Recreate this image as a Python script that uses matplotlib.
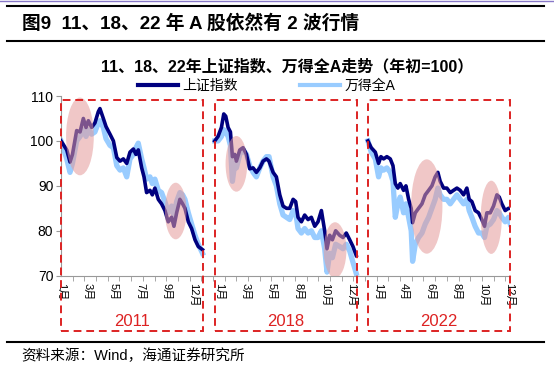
import matplotlib
matplotlib.use("Agg")
import matplotlib.pyplot as plt
import numpy as np
from matplotlib.lines import Line2D
from matplotlib.patches import Ellipse, Rectangle

plt.rcParams['font.family'] = ['Liberation Sans', 'Noto Sans CJK SC', 'DejaVu Sans']

# months since Jan 1 of each year, index values (year start = 100)
years = ['2011', '2018', '2022']

t_2011 = [0, 0.49, 0.77, 0.98, 1.34, 1.63, 1.91, 2.14, 2.34, 2.62, 2.9, 3.19, 3.33, 3.62, 3.85, 4.19,
          4.48, 4.77, 5.05, 5.33, 5.62, 5.9, 6.19, 6.41, 6.61, 6.9, 7.1, 7.32, 7.61, 7.81, 8.03, 8.32,
          8.6, 8.89, 9.17, 9.46, 9.66, 9.89, 10.17, 10.4, 10.6, 10.89, 11.17, 11.46, 11.74, 12.1]
sh_2011 = [100, 98, 95.3, 97, 102.3, 102, 105, 103, 104.5, 103, 104, 106.5, 107.2, 105, 103.2, 101.5,
           100, 96.3, 95.5, 96, 95, 97.5, 98.2, 97, 98, 94, 92, 88.5, 89, 88, 89.5, 87,
           86, 84.5, 82, 83, 81, 84, 87, 86, 85, 82, 80.5, 78, 76.5, 75.8]
wa_2011 = [100, 96, 93, 95, 100, 101, 102.5, 101, 102.5, 101.5, 102, 104, 104.5, 103, 100.5, 99,
           98.5, 94.5, 93.5, 94, 92, 96, 97, 98.5, 99.5, 96, 94, 91.5, 92, 90.5, 91.5, 89,
           88.5, 86.5, 84, 85.5, 83.5, 86.5, 88.5, 88, 87, 84, 81.5, 79, 77, 75]

t_2018 = [0, 0.28, 0.57, 0.77, 0.94, 1.14, 1.34, 1.51, 1.71, 1.85, 2.14, 2.42, 2.71, 2.99, 3.28, 3.56,
          3.85, 4.13, 4.42, 4.64, 4.99, 5.27, 5.56, 5.84, 6.13, 6.41, 6.7, 6.92, 7.12, 7.41, 7.69, 7.98,
          8.26, 8.55, 8.83, 9.12, 9.4, 9.6, 9.83, 10.06, 10.34, 10.68, 10.97, 11.25, 11.54, 11.82, 12.1]
sh_2018 = [100, 101, 103, 106, 105.5, 103, 102, 96.5, 97, 95.5, 98, 98.5, 97, 93.8, 94, 93,
           94, 95.5, 96, 95.5, 93, 92, 88, 85.5, 85, 85, 87, 86.5, 83, 82, 83.5, 82.5,
           83, 81, 82, 84.5, 80, 76, 79, 78, 80, 79, 78.5, 79.5, 78, 76.5, 74.5]
wa_2018 = [100, 100, 101, 102.5, 102, 101, 99, 91, 95, 94, 97, 98, 97, 94.5, 93, 92,
           94, 95.5, 96.5, 96.5, 92, 90, 86, 83.5, 83, 82.5, 84.5, 84, 80.5, 79.5, 80.5, 79.5,
           80, 78.5, 78.5, 80, 76, 70.8, 75, 74, 77, 76.5, 76, 77, 75.5, 73, 70.5]

t_2022 = [0, 0.28, 0.63, 0.91, 1.11, 1.34, 1.62, 1.91, 2.14, 2.34, 2.56, 2.76, 3.05, 3.25, 3.48, 3.7,
          3.82, 4.05, 4.33, 4.62, 4.9, 5.19, 5.47, 5.75, 5.98, 6.18, 6.47, 6.75, 7.04, 7.32, 7.61, 7.89,
          8.18, 8.46, 8.66, 8.89, 9.17, 9.46, 9.74, 9.97, 10.17, 10.46, 10.74, 11.03, 11.23, 11.45,
          11.74, 12.02, 12.17]
sh_2022 = [100, 98.5, 97.5, 95, 96.5, 96, 96.5, 96, 94.5, 90.5, 89.5, 90.5, 89, 90, 87, 85,
           81.8, 84, 85, 86, 88, 89, 90, 92, 93, 91, 89.5, 89.5, 88.5, 89, 89.5, 89,
           88, 89.5, 87, 86.5, 84.5, 84, 82.5, 81, 84, 84, 85.5, 88, 87.5, 86,
           84.5, 85, 85]
wa_2022 = [100, 97.5, 96, 92, 94, 93.5, 94, 93, 91, 83, 86, 87.5, 84, 86, 83, 80,
           73.2, 77, 78.5, 79.5, 81.5, 83, 85, 87, 89.5, 88, 87, 87, 86, 87, 88, 87,
           86, 87, 84.5, 83, 81, 79.5, 79.5, 78.5, 81, 81.5, 82.5, 84.5, 84, 83,
           82, 83, 81.5]

month_labels = ['1月', '3月', '5月', '7月', '9月', '12月',
                '1月', '3月', '5月', '8月', '10月', '12月',
                '1月', '4月', '6月', '8月', '10月', '12月']

series = [(t_2011, sh_2011, wa_2011), (t_2018, sh_2018, wa_2018), (t_2022, sh_2022, wa_2022)]

# highlighted periods: (year index, centre month, centre value, width, height)
highlights = [(0, 1.62, 101.0, 2.37, 17.3), (0, 9.81, 84.4, 1.85, 12.6),
              (1, 1.85, 94.9, 1.85, 12.4), (1, 10.29, 75.7, 1.94, 12.4),
              (2, 5.03, 85.4, 2.68, 21.0), (2, 10.55, 83.0, 1.8, 16.3)]

NAVY = '#00007f'
LIGHT = '#99ccff'
RED = '#dd2222'

W, H = 554, 372
fig = plt.figure(figsize=(W / 100, H / 100), dpi=100)
ax = fig.add_axes([61 / W, 1 - 275.7 / H, 449 / W, 179.7 / H])

offsets = [0, 13.15, 26.25]
seg_len = 12.13

for off, (t, sh, wa) in zip(offsets, series):
    x = np.array(t) + off
    ax.plot(x, wa, color=LIGHT, lw=3.8, solid_joinstyle='round', zorder=2)
    ax.plot(x, sh, color=NAVY, lw=2.6, solid_joinstyle='round', zorder=3)

for yi, cx, cy, w, h in highlights:
    ax.add_patch(Ellipse((offsets[yi] + cx, cy), w, h, facecolor='#e49a9a', edgecolor='none',
                         alpha=0.55, zorder=4))

# dashed year boxes reaching below the axis
for off, yr in zip(offsets, years):
    ax.add_patch(Rectangle((off, 57.7), seg_len, 109.1 - 57.7, fill=False, edgecolor=RED,
                           lw=1.4, linestyle=(0, (4, 2.5)), clip_on=False, zorder=5))
    ax.text(off + seg_len / 2, 59.7, yr, color=RED, fontsize=12, ha='center', va='center')

ax.set_xlim(0, 38.4)
ax.set_ylim(70, 110)
ax.set_yticks([70, 80, 90, 100, 110])
ax.set_xticks(np.linspace(0, 38.37, len(month_labels)))
ax.set_xticklabels(month_labels, rotation=270, fontsize=8)
ax.set_xticks(np.arange(0, 39), minor=True)
ax.tick_params(axis='x', which='major', length=0, pad=5)
ax.tick_params(axis='x', which='minor', length=3.5, color='#999999')
ax.tick_params(axis='y', length=3.5, color='#999999', labelsize=10, pad=2)
for s in ['top', 'right']:
    ax.spines[s].set_visible(False)
for s in ['left', 'bottom']:
    ax.spines[s].set_color('#999999')

handles = [Line2D([], [], color=NAVY, lw=3), Line2D([], [], color=LIGHT, lw=3)]
fig.legend(handles, ['上证指数', '万得全A'], loc='center', bbox_to_anchor=(266.5 / W, 1 - 85.7 / H),
           ncol=2, frameon=False, fontsize=10, handlelength=2.9, handletextpad=0.3,
           columnspacing=4.5, borderpad=0)

fig.text(21.7 / W, 1 - 23.3 / H, '图9  11、18、22 年 A 股依然有 2 波行情', fontsize=13.5,
         fontweight='bold', va='center', ha='left')
fig.text(287 / W, 1 - 66.7 / H, '11、18、22年上证指数、万得全A走势（年初=100）', fontsize=11.5,
         fontweight='bold', va='center', ha='center')
fig.text(21 / W, 1 - 356 / H, '资料来源：Wind，海通证券研究所', fontsize=10.5, va='center', ha='left')

fig.add_artist(Line2D([0, 1], [1 - 1 / H, 1 - 1 / H], color='#8878c8', lw=1))
for yy in [5.7, 41, 342]:
    fig.add_artist(Line2D([7 / W, 544 / W], [1 - yy / H, 1 - yy / H], color='black', lw=1.5))

fig.savefig('out.png', dpi=100)
